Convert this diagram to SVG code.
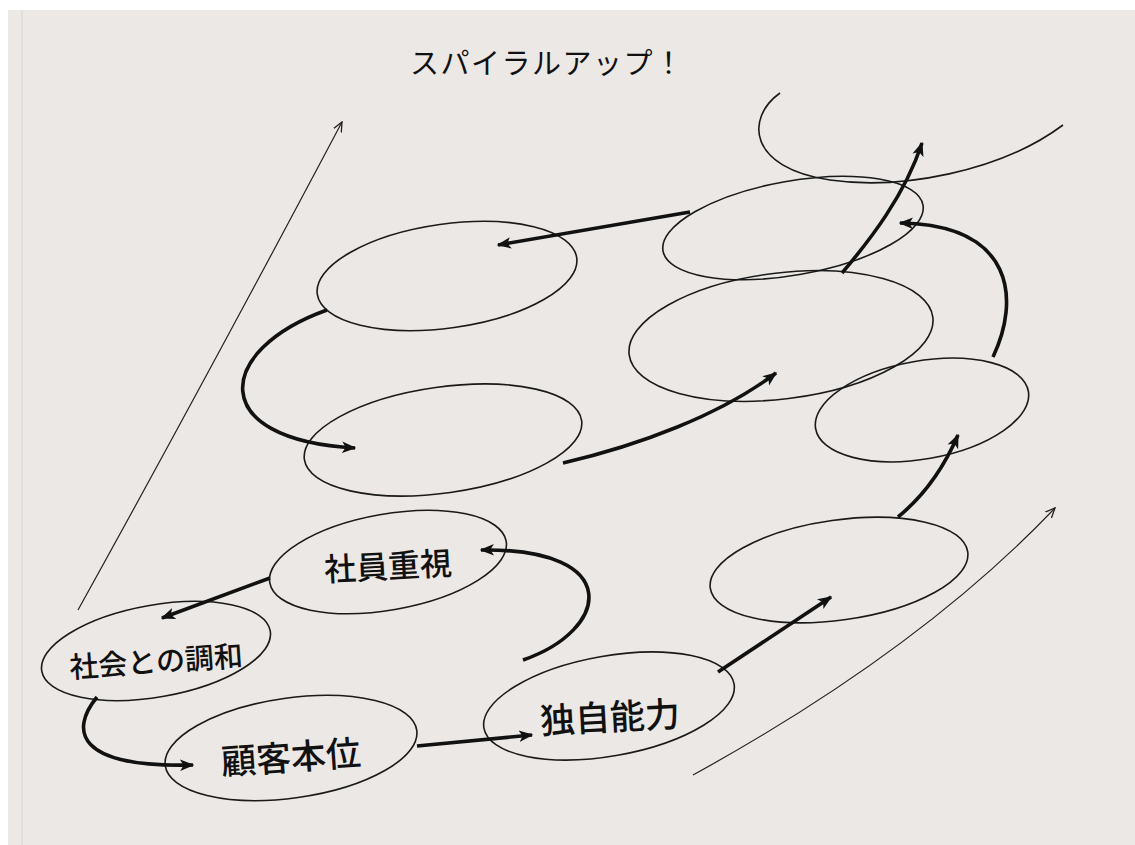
<svg xmlns="http://www.w3.org/2000/svg" width="1135" height="845" viewBox="0 0 1135 845">
<defs>
<marker id="ah" viewBox="0 0 10 10" refX="9" refY="5" markerWidth="4" markerHeight="4" orient="auto" markerUnits="strokeWidth">
<path d="M0,1 L10,5 L0,9 L2.5,5 Z" fill="#111"/>
</marker>
<marker id="thin" viewBox="0 0 10 10" refX="9" refY="5" markerWidth="9" markerHeight="9" orient="auto" markerUnits="strokeWidth">
<path d="M0,1 L9,5 L0,9" fill="none" stroke="#222" stroke-width="1.2"/>
</marker>
<style>
.el{fill:none;stroke:#1a1a1a;stroke-width:1.6}
.th{fill:none;stroke:#111;stroke-width:3.6;marker-end:url(#ah)}
.tn{fill:none;stroke:#222;stroke-width:1.2;marker-end:url(#thin)}
.lb{font-family:"Noto Sans CJK JP","Noto Sans",sans-serif;font-weight:500;fill:#111;text-anchor:middle}
</style>
</defs>
<rect x="0" y="0" width="1135" height="845" fill="#ffffff"/>
<rect x="8" y="10" width="1127" height="835" fill="#ebe8e5"/>
<line x1="22" y1="10" x2="22" y2="845" stroke="#d8d5d2" stroke-width="1"/>

<text x="410" y="74" font-family="'Noto Sans CJK JP','Noto Sans',sans-serif" font-size="29" font-weight="400" letter-spacing="1.5" fill="#111">スパイラルアップ！</text>

<g id="top-arc"><path class="el" d="M780,93 C745,118 748,168 830,180 C900,190 1000,172 1063,125"/></g>
<g id="n-upper-left"><ellipse class="el" cx="447" cy="276" rx="131" ry="52" transform="rotate(-8 447 276)"/></g>
<g id="n-lower-left"><ellipse class="el" cx="443" cy="440" rx="140" ry="53" transform="rotate(-8 443 440)"/></g>
<g id="n-upper-right"><ellipse class="el" cx="793" cy="228" rx="132" ry="47" transform="rotate(-10 793 228)"/></g>
<g id="n-mid-right"><ellipse class="el" cx="781" cy="336" rx="153" ry="63" transform="rotate(-7 781 336)"/></g>
<g id="n-right-small"><ellipse class="el" cx="922" cy="410" rx="108" ry="49" transform="rotate(-10 922 410)"/></g>
<g id="n-lower-right"><ellipse class="el" cx="839" cy="570" rx="130" ry="50" transform="rotate(-8 839 570)"/></g>

<g id="n-dokuji"><ellipse class="el" cx="609" cy="706" rx="127" ry="50" transform="rotate(-10 609 706)"/><text x="610" y="730" class="lb" font-size="35" transform="rotate(-3 610 718)">独自能力</text></g>
<g id="n-kokyaku"><ellipse class="el" cx="291" cy="748" rx="127" ry="50" transform="rotate(-8 291 748)"/><text x="291" y="770" class="lb" font-size="35" transform="rotate(-4 291 758)">顧客本位</text></g>
<g id="n-shakai"><ellipse class="el" cx="156" cy="651" rx="116" ry="46" transform="rotate(-10 156 651)"/><text x="156" y="672" class="lb" font-size="29" transform="rotate(-4 156 660)">社会との調和</text></g>
<g id="n-shain"><ellipse class="el" cx="388" cy="562" rx="120" ry="48" transform="rotate(-10 388 562)"/><text x="388" y="578" class="lb" font-size="32" transform="rotate(-3 388 566)">社員重視</text></g>

<g id="connectors">
<path class="tn" d="M78,610 Q200,390 342,122"/>
<path class="tn" d="M693,775 Q920,650 1055,508"/>
<path class="th" d="M270,578 L162,618"/>
<path class="th" d="M97,697 C70,730 75,768 193,765"/>
<path class="th" d="M417,746 L532,735"/>
<path class="th" d="M523,660 C610,630 625,548 481,550"/>
<path class="th" d="M718,672 L831,597"/>
<path class="th" d="M898,517 C925,495 945,465 958,435"/>
<path class="th" d="M993,357 C1020,300 1015,225 900,223"/>
<path class="th" d="M842,273 C870,240 905,195 922,143"/>
<path class="th" d="M690,212 L498,245"/>
<path class="th" d="M327,310 C215,350 205,440 355,448"/>
<path class="th" d="M563,463 C640,445 720,415 776,373"/>
</g>
</svg>
